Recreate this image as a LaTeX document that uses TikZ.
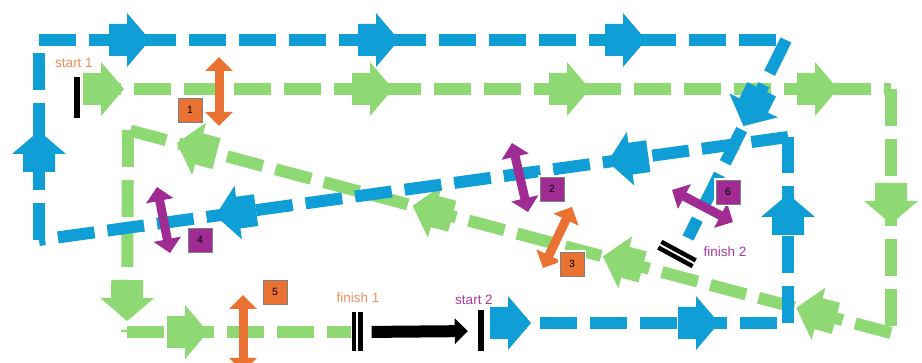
\documentclass[tikz,border=0pt]{standalone}
\usepackage{fontspec}
\setmainfont{Liberation Sans}
\usetikzlibrary{arrows.meta,decorations.markings}

\definecolor{cblue}{HTML}{0F9ED5}
\definecolor{cgreen}{HTML}{8ED973}
\definecolor{corange}{HTML}{E97132}
\definecolor{cpurple}{HTML}{A02B93}
\definecolor{torange}{HTML}{F08C5A}
\definecolor{tpurple}{HTML}{A63A9E}

% block arrowhead placed on a course line (local x runs along the line)
\newcommand\coursehead[1]{%
  \fill[#1] (-20,-16) -- (-2,-16) -- (-2,-27) -- (21,0) -- (-2,27) -- (-2,16) -- (-20,16) -- cycle;}

\tikzset{
  course/.style={line width=12pt, dash pattern=on 37pt off 13pt},
  heads/.style={postaction={decorate, decoration={markings, #1}}},
  bar/.style={fill=black, inner sep=0pt, minimum width=6pt, minimum height=41pt},
  finishbar/.style={fill=black, inner sep=0pt, minimum width=11pt, minimum height=39pt},
  finishgap/.style={draw=white, line width=1.8pt},
  swaparrow/.style={draw=#1, line width=9pt,
    {Triangle[width=27pt,length=14pt]}-{Triangle[width=27pt,length=14pt]}},
  numbox/.style={draw=gray, fill=#1, line width=0.8pt, minimum size=24pt, inner sep=0pt,
    preaction={draw=white, line width=4pt},
    font=\fontsize{10.5}{12}\selectfont},
  lbl/.style={inner sep=0pt, font=\fontsize{13.5}{16}\selectfont},
  linkarrow/.style={draw=black, line width=12pt, -{Triangle[width=25pt,length=13pt]}},
}

\begin{document}
\begin{tikzpicture}[x=1pt, y=-1pt]
\useasboundingbox (0,0) rectangle (922,363);

% start and finish marks
\node[bar] (s1) at (77,98) {};
\node[finishbar] (f1) at (357,332) {};
\node[bar] (s2) at (481,331) {};
\node[finishbar, rotate=61.5] (f2) at (677,254) {};
\draw[finishgap] (f1.north) -- (f1.south);
\draw[finishgap] (f2.north) -- (f2.south);

% course 1 corners
\coordinate (G0) at (84,89);
\coordinate (G1) at (891,89);
\coordinate (G2) at (891,333);
\coordinate (G3) at (128,130);
\coordinate (G4) at (127,332);
\coordinate (G5) at (351,332);

% course 2 corners
\coordinate (B0) at (490,323);
\coordinate (B1) at (788,323);
\coordinate (B2) at (788,137);
\coordinate (B3) at (39,240);
\coordinate (B4) at (39,40);
\coordinate (B5) at (786,40);
\coordinate (B6) at (688,238);

% course 1 (green)
\draw[course, draw=cgreen, heads={
  mark=at position 19pt with {\coursehead{cgreen}},
  mark=at position 288pt with {\coursehead{cgreen}},
  mark=at position 485pt with {\coursehead{cgreen}},
  mark=at position 733pt with {\coursehead{cgreen}}}] (G0) -- (G1);
\draw[course, draw=cgreen, heads={
  mark=at position 114pt with {\coursehead{cgreen}}}] (G1) -- (G2);
\draw[course, draw=cgreen, heads={
  mark=at position 77pt with {\coursehead{cgreen}},
  mark=at position 277pt with {\coursehead{cgreen}},
  mark=at position 474pt with {\coursehead{cgreen}},
  mark=at position 718pt with {\coursehead{cgreen}}}] (G2) -- (G3);
\draw[course, draw=cgreen, heads={
  mark=at position 170pt with {\coursehead{cgreen}}}] (G3) -- (G4);
\draw[course, draw=cgreen, heads={
  mark=at position 60pt with {\coursehead{cgreen}}}] (G4) -- (G5);

% course 2 (blue)
\draw[course, draw=cblue, heads={
  mark=at position 20pt with {\coursehead{cblue}},
  mark=at position 208pt with {\coursehead{cblue}}}] (B0) -- (B1);
\draw[course, draw=cblue, heads={
  mark=at position 108pt with {\coursehead{cblue}}}] (B1) -- (B2);
\draw[course, draw=cblue, heads={
  mark=at position 161pt with {\coursehead{cblue}},
  mark=at position 557pt with {\coursehead{cblue}}}] (B2) -- (B3);
\draw[course, draw=cblue, heads={
  mark=at position 88pt with {\coursehead{cblue}}}] (B3) -- (B4);
\draw[course, draw=cblue, heads={
  mark=at position 90pt with {\coursehead{cblue}},
  mark=at position 339pt with {\coursehead{cblue}},
  mark=at position 586pt with {\coursehead{cblue}}}] (B4) -- (B5);
\draw[course, draw=cblue, heads={
  mark=at position 75pt with {\coursehead{cblue}}}] (B5) -- (B6);

% transfer from finish 1 to start 2
\draw[linkarrow, shorten <=9pt, shorten >=10pt] (f1.east) -- (s2.west);

% crossing points
\coordinate (x1a) at (219,57);  \coordinate (x1b) at (219,126);
\coordinate (x2a) at (512,143); \coordinate (x2b) at (528,212);
\coordinate (x3a) at (572,207); \coordinate (x3b) at (543,268);
\coordinate (x4a) at (157,187); \coordinate (x4b) at (170,253);
\coordinate (x5a) at (243,295); \coordinate (x5b) at (243,372);
\coordinate (x6a) at (672,190); \coordinate (x6b) at (733,222);

\draw[swaparrow=corange] (x1a) -- (x1b);
\draw[swaparrow=cpurple] (x2a) -- (x2b);
\draw[swaparrow=corange] (x3a) -- (x3b);
\draw[swaparrow=cpurple] (x4a) -- (x4b);
\draw[swaparrow=corange] (x5a) -- (x5b);
\draw[swaparrow=cpurple] (x6a) -- (x6b);

\node[numbox=corange] (n1) at (190,110) {1};
\node[numbox=cpurple] (n2) at (552,189) {2};
\node[numbox=corange] (n3) at (572,264) {3};
\node[numbox=cpurple] (n4) at (200,240) {4};
\node[numbox=corange] (n5) at (275,292) {5};
\node[numbox=cpurple] (n6) at (728,192) {6};

% labels
\node[lbl, text=torange] (ls1) at (74,63) {start 1};
\node[lbl, text=torange] (lf1) at (358,298) {finish 1};
\node[lbl, text=tpurple] (ls2) at (474,300) {start 2};
\node[lbl, text=tpurple] (lf2) at (725,252) {finish 2};
\end{tikzpicture}
\end{document}
